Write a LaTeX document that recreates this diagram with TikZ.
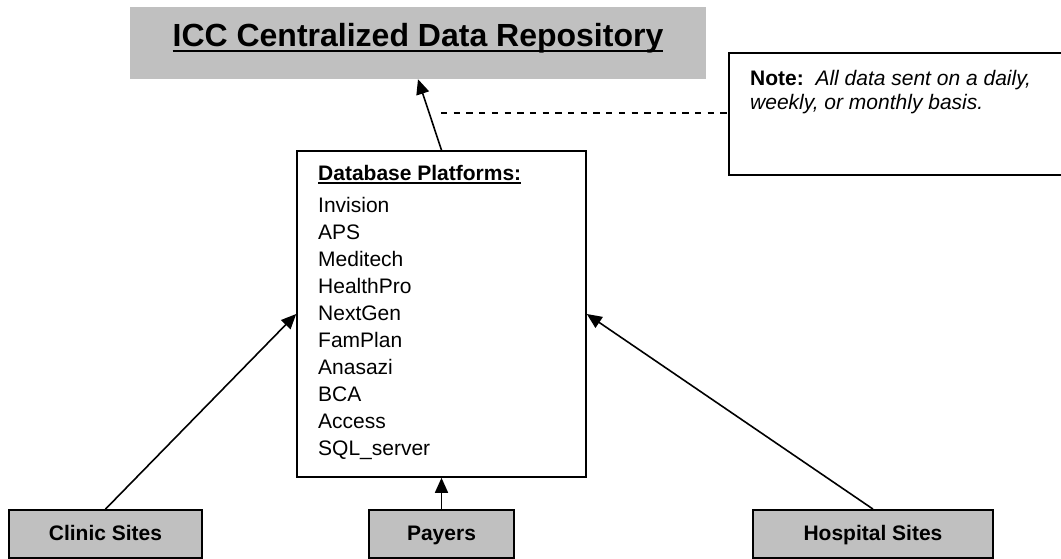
\documentclass[tikz,border=0pt]{standalone}
\usepackage{fontspec}
\setmainfont{Liberation Sans}
\usetikzlibrary{arrows.meta}
\definecolor{boxgray}{RGB}{192,192,192}
\newcommand\myul[1]{\setbox0\hbox{#1}\rlap{\vrule height -0.09em depth 0.17em width \wd0}\box0}
\tikzset{
  repobox/.style={fill=boxgray, draw=none, rectangle, inner sep=0, minimum width=576pt, minimum height=72pt},
  dbbox/.style={draw=black, line width=1.6pt, rectangle, inner sep=0, minimum width=289pt, minimum height=326pt},
  sitebox/.style={draw=black, fill=boxgray, line width=1.8pt, rectangle, inner sep=0, minimum height=48pt,
    text height=15pt, text depth=3pt, font=\fontsize{21}{25}\selectfont\bfseries},
  txt/.style={inner sep=0, align=left},
  conn/.style={line width=1.6pt, -{Triangle[length=15pt,width=13pt]}},
  dashconn/.style={line width=1.5pt, dash pattern=on 6.3pt off 6.4pt},
  noteline/.style={line width=1.6pt}
}
\begin{document}
\begin{tikzpicture}[x=1pt,y=-1pt]
\useasboundingbox (0,0) rectangle (1061,559);
% repository
\node[repobox] (repo) at (418,43) {};
\node[inner sep=0, anchor=base, font=\fontsize{32}{38}\selectfont\bfseries] (repotitle) at (418,47) {\myul{ICC Centralized Data Repository}};
% note
\draw[noteline] (1062,53) -- (729,53) -- (729,175) -- (1062,175);
\coordinate (notew) at (729,113);
\node[txt, anchor=north west, font=\fontsize{21}{24}\selectfont] (notetext) at (750,70.5)
  {\textbf{Note:}\ \ \textit{All data sent on a daily,}\\\textit{weekly, or monthly basis.}};
% database box
\node[dbbox] (db) at (441.5,314) {};
\node[txt, anchor=north west, font=\fontsize{21}{27}\selectfont] (dbtext) at (318,165)
  {\myul{\textbf{Database Platforms:}}\\[5pt]
   Invision\\APS\\Meditech\\HealthPro\\NextGen\\FamPlan\\Anasazi\\BCA\\Access\\SQL\_server};
% sources
\node[sitebox, minimum width=193pt] (clinic) at (105.5,534) {Clinic Sites};
\node[sitebox, minimum width=145pt] (payers) at (441.5,534) {Payers};
\node[sitebox, minimum width=240pt] (hosp) at (873,534) {Hospital Sites};
% connectors
\draw[conn] (db.north) -- (repo.south);
\coordinate (dstart) at (441,113);
\draw[dashconn] (dstart) -- (notew);
\draw[conn] (clinic.north) -- (db.west);
\draw[conn] (payers.north) -- (db.south);
\draw[conn] (hosp.north) -- (db.east);
\end{tikzpicture}
\end{document}
